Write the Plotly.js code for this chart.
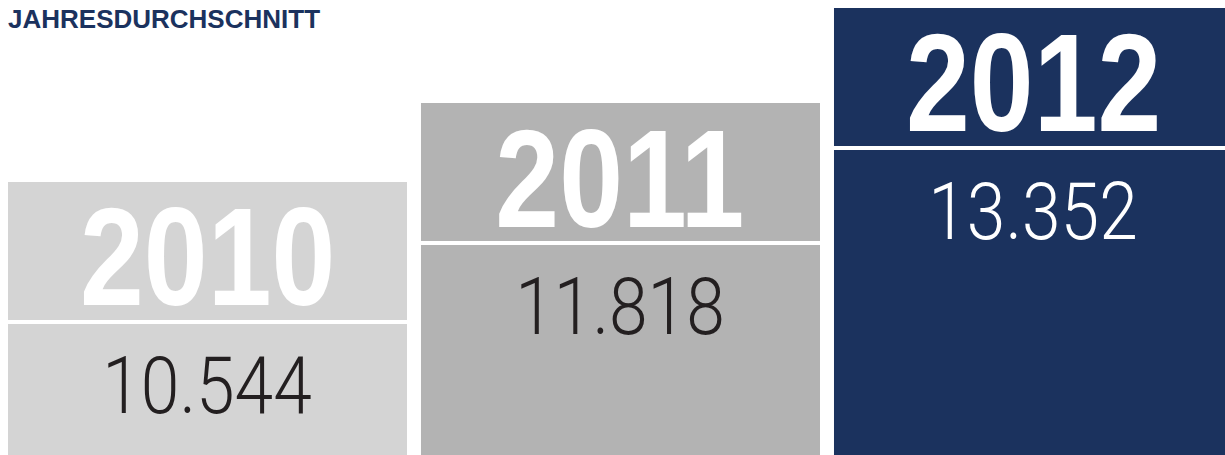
<!DOCTYPE html>
<html><head><meta charset="utf-8">
<script src="https://cdn.plot.ly/plotly-3.0.1.min.js"></script>
<style>
html,body{margin:0;padding:0;background:#fff;overflow:hidden}
#chart{width:1225px;height:455px}
/* condensed look for the big in-bar labels */
#chart .annotation-text{transform-box:fill-box;transform-origin:50% 50%;transform:scaleX(0.82)}
#chart .annotation[data-index="1"] .annotation-text,
#chart .annotation[data-index="3"] .annotation-text,
#chart .annotation[data-index="5"] .annotation-text{transform:scaleX(0.88)}
</style>
</head><body><div id="chart"></div>
<script>
// ---- data ----
const years = ['2010', '2011', '2012'];
const values = [10544, 11818, 13352];
const valueLabels = ['10.544', '11.818', '13.352'];
const chartTitle = 'JAHRESDURCHSCHNITT';

// ---- styles ----
const barColors = ['#d4d4d4', '#b3b3b3', '#1b325e'];
const valueColors = ['#231f20', '#231f20', '#ffffff'];
const BOLD_FONT = 'Liberation Sans, Arial, sans-serif';
const LIGHT_FONT = 'Roboto, Liberation Sans, sans-serif';

const trace = {
  type: 'bar', x: years, y: values,
  marker: {color: barColors, line: {width: 0}},
  hoverinfo: 'skip'
};

const annotations = [];
const shapes = [];
years.forEach((yr, i) => {
  annotations.push({
    x: i, y: values[i], xref: 'x', yref: 'y', text: yr, showarrow: false,
    xanchor: 'center', yanchor: 'middle', yshift: -75,
    font: {family: BOLD_FONT, size: 140, weight: 700, color: '#ffffff'}
  });
  annotations.push({
    x: i, y: values[i], xref: 'x', yref: 'y', text: valueLabels[i], showarrow: false,
    xanchor: 'center', yanchor: 'middle', yshift: -204,
    font: {family: LIGHT_FONT, size: 79, weight: 300, color: valueColors[i]}
  });
  shapes.push({
    type: 'rect', xref: 'x', yref: 'y', x0: i - 0.5, x1: i + 0.5,
    ysizemode: 'pixel', yanchor: values[i], y0: -138, y1: -142,
    fillcolor: '#ffffff', line: {width: 0}, layer: 'above'
  });
});

const layout = {
  width: 1225, height: 455,
  margin: {l: 0, r: 0, t: 0, b: 0, pad: 0},
  paper_bgcolor: '#ffffff', plot_bgcolor: '#ffffff',
  showlegend: false,
  bargap: 0.0339,
  title: {
    text: chartTitle, x: 8 / 1225, xanchor: 'left', xref: 'paper',
    y: 1 - 10 / 455, yanchor: 'top', yref: 'container',
    font: {family: 'Liberation Sans, Arial, sans-serif', size: 26, weight: 700, color: '#1b325e'}
  },
  xaxis: {visible: false, type: 'category', range: [-0.5024, 2.4637], fixedrange: true},
  yaxis: {visible: false, range: [6138, 13481], fixedrange: true},
  annotations: annotations,
  shapes: shapes
};

Plotly.newPlot('chart', [trace], layout, {staticPlot: true, displayModeBar: false});
</script>
</body></html>
